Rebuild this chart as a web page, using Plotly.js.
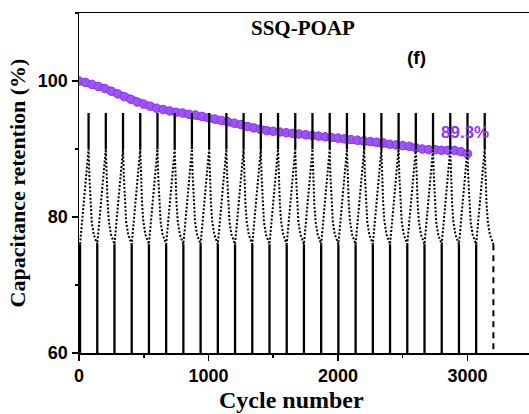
<!DOCTYPE html>
<html><head><meta charset="utf-8">
<script src="https://cdn.plot.ly/plotly-3.0.1.min.js"></script>
<style>html,body{margin:0;padding:0;background:#fff;}#chart{width:529px;height:414px;}</style>
</head><body><div id="chart"></div>
<script>
// Capacitance retention (purple markers)
const cycleNumber = [0,50,100,150,200,250,300,350,400,450,500,550,600,650,700,750,800,850,900,950,
  1000,1050,1100,1150,1200,1250,1300,1350,1400,1450,1500,1550,1600,1650,1700,1750,1800,1850,1900,1950,
  2000,2050,2100,2150,2200,2250,2300,2350,2400,2450,2500,2550,2600,2650,2700,2750,2800,2850,2900,2950,3000];
const retention = [100.0,99.8,99.5,99.2,98.9,98.5,98.1,97.7,97.3,96.9,96.6,96.3,96.0,95.8,95.6,95.4,95.3,95.1,95.0,94.8,
  94.6,94.4,94.2,94.0,93.8,93.6,93.3,93.1,92.9,92.7,92.6,92.5,92.4,92.3,92.2,92.1,92.0,91.9,91.8,91.7,
  91.6,91.5,91.4,91.3,91.2,91.1,91.0,90.9,90.7,90.6,90.5,90.4,90.2,90.0,89.9,89.9,89.8,89.8,89.8,89.6,89.3];

// Galvanostatic charge/discharge trace (black)
const gcdValleys = [8,141,274,407,540,673,806,939,1072,1205,1338,1471,1604,1737,1870,2003,2136,2269,2402,2535,2668,2801,2934,3067,3200];
const gcdPeaks = [74,207,340,473,606,739,872,1005,1138,1271,1404,1537,1670,1803,1936,2069,2202,2335,2468,2601,2734,2867,3000,3133];
const riseOffsets = [0, 66];
const riseLevels = [76, 90];
const fallOffsets = [0, 6, 14, 24, 40];
const fallLevels = [90, 86, 82, 79.3, 77.4];
const valleyLevels = [60, 76];
const peakLevels = [90, 95.3];

const xTickVals = [0, 1000, 2000, 3000];
const yTickVals = [60, 80, 100];
const endLabel = '89.3%';

// build dotted curve
const dotX = [], dotY = [];
for (let i = 0; i < gcdPeaks.length; i++) {
  for (let k = 0; k < riseOffsets.length; k++) { dotX.push(gcdValleys[i] + riseOffsets[k]); dotY.push(riseLevels[k]); }
  for (let k = 1; k < fallOffsets.length; k++) { dotX.push(gcdPeaks[i] + fallOffsets[k]); dotY.push(fallLevels[k]); }
  dotX.push(gcdValleys[i + 1]); dotY.push(valleyLevels[1]);
}
// solid near-vertical segments
const solidX = [], solidY = [];
for (let i = 0; i < gcdValleys.length - 1; i++) {
  solidX.push(gcdValleys[i], gcdValleys[i], null); solidY.push(valleyLevels[0], valleyLevels[1], null);
}
for (let i = 0; i < gcdPeaks.length; i++) {
  solidX.push(gcdPeaks[i], gcdPeaks[i], null); solidY.push(peakLevels[0], peakLevels[1], null);
}
const lastV = gcdValleys[gcdValleys.length - 1];

const traces = [
  {x: cycleNumber, y: retention, mode: 'lines+markers', type: 'scatter', hoverinfo: 'skip',
   line: {color: '#9440f2', width: 7},
   marker: {symbol: 'circle', size: 8.5, color: '#9d52fa', line: {color: '#8b34ea', width: 1}}},
  {x: dotX, y: dotY, mode: 'lines', type: 'scatter', line: {color: '#000', width: 2, dash: '2px,1.8px'}},
  {x: solidX, y: solidY, mode: 'lines', type: 'scatter', line: {color: '#000', width: 2.3}},
  {x: [lastV, lastV], y: [valleyLevels[1], valleyLevels[0]], mode: 'lines', type: 'scatter', line: {color: '#000', width: 2, dash: '6px,5px'}}
];

const tickFont = {family: 'Liberation Sans, Arial, sans-serif', size: 18, color: '#000', weight: 700};
const layout = {
  width: 529, height: 414,
  margin: {l: 79, r: 0, t: 13, b: 61, pad: 0},
  paper_bgcolor: '#fff', plot_bgcolor: '#fff',
  showlegend: false,
  xaxis: {range: [0, 3475], showgrid: false, zeroline: false, showline: true, linecolor: '#000', linewidth: 1.5,
    mirror: true, ticks: 'outside', ticklen: 6, tickwidth: 1.5, tickcolor: '#000', tickvals: xTickVals,
    tickfont: tickFont, minor: {dtick: 500, tick0: 0, ticks: 'outside', ticklen: 3, tickwidth: 1.5, tickcolor: '#000'}},
  yaxis: {range: [60, 110], showgrid: false, zeroline: false, showline: true, linecolor: '#000', linewidth: 1.5,
    ticks: 'outside', ticklen: 6, tickwidth: 1.5, tickcolor: '#000', tickvals: yTickVals, tickfont: tickFont,
    minor: {dtick: 10, tick0: 60, ticks: 'outside', ticklen: 3, tickwidth: 1.5, tickcolor: '#000'},
    title: {text: 'Capacitance retention (%)', standoff: 6,
      font: {family: 'Liberation Serif, Times New Roman, serif', size: 22, color: '#000', weight: 700}}},
  annotations: [
    {text: 'Cycle number', xref: 'paper', yref: 'paper', x: 0.4733, y: -0.138, xanchor: 'center', yanchor: 'middle', showarrow: false,
     font: {family: 'Liberation Serif, Times New Roman, serif', size: 24, color: '#000', weight: 700}},
    {text: 'SSQ-POAP', xref: 'paper', yref: 'paper', x: 0.4967, y: 0.956, xanchor: 'center', yanchor: 'middle', showarrow: false,
     font: {family: 'Liberation Serif, Times New Roman, serif', size: 21, color: '#000', weight: 700}},
    {text: '(f)', xref: 'paper', yref: 'paper', x: 0.749, y: 0.868, xanchor: 'center', yanchor: 'middle', showarrow: false,
     font: {family: 'Liberation Sans, Arial, sans-serif', size: 19, color: '#000', weight: 700}},
    {text: endLabel, xref: 'x', yref: 'y', x: 2981, y: 92.5, xanchor: 'center', yanchor: 'middle', showarrow: false,
     font: {family: 'Liberation Sans, Arial, sans-serif', size: 17, color: '#9433f2', weight: 700}}
  ]
};
Plotly.newPlot('chart', traces, layout, {displayModeBar: false, staticPlot: true});
</script></body></html>
